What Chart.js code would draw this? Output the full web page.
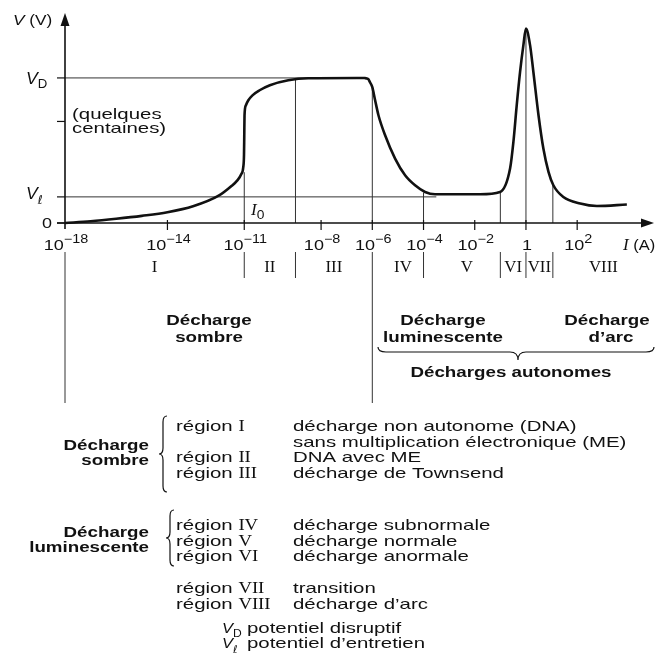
<!DOCTYPE html>
<html>
<head>
<meta charset="utf-8">
<script src="https://cdn.jsdelivr.net/npm/chart.js@4.4.1/dist/chart.umd.min.js"></script>
<style>
  html, body { margin: 0; padding: 0; background: #fff; }
  canvas { display: block; }
</style>
</head>
<body>
<canvas id="chart" width="656" height="668"></canvas>
<script>
// current as log10(I/A), voltage in units where V_D = 100
const currentExp = [-18, -17, -16, -15, -14, -13, -12, -11.5, -11.27, -11.12, -11.04, -11.01, -11.0, -10.99,
  -10.94, -10.84, -10.68, -10.4, -10.0, -9.28, -8.5, -6.6, -6.3, -6.16, -6.09, -6.0, -5.89, -5.76, -5.50, -5.11,
  -4.72, -4.33, -3.94, -3.55, -1.79, -1.01, -0.62, -0.49, -0.36, -0.23, -0.10, 0,
  0.16, 0.29, 0.49, 0.68, 0.88, 1.07, 1.46, 2.12, 2.77, 3.94];
const voltage = [0, 1.2, 2.9, 4.9, 7.4, 11.5, 18.8, 25.5, 29.4, 33.6, 38.4, 47, 60, 74,
  81, 84.6, 88, 91.5, 95, 98.4, 99.8, 100, 99.9, 99.2, 97, 93.6, 84.6, 74.3, 60.5, 44.4,
  32.9, 26.0, 21.4, 19.8, 19.8, 21.4, 37.5, 55.9, 81.2, 104.1, 122.6, 134,
  122.6, 104.1, 74.3, 51.3, 35.2, 26.0, 17.9, 13.4, 11.7, 12.7];

const VD = 100;
const Vl = 18;
const yTickValues = [0, Vl, 70, VD];

const xTickExp = [-18, -14, -11, -8, -6, -4, -2, 0, 2];
const xTickLabels = ['10^−18', '10^−14', '10^−11', '10^−8', '10^−6', '10^−4', '10^−2', '1', '10^2'];

// region boundaries (log10 I) and how high each guide line climbs
const boundaryExp = [-11, -9, -6, -4, -1, 0, 1.05];
const boundaryTop = [35, 99.3, 94, 21, 21.5, 134, 26];
const regionEdges = [-18, -11, -9, -6, -4, -1, 0, 1.05, 5];
const regionNames = ['I', 'II', 'III', 'IV', 'V', 'VI', 'VII', 'VIII'];

const darkRows = [['I', 'décharge non autonome (DNA)'], [null, 'sans multiplication électronique (ME)'],
  ['II', 'DNA avec ME'], ['III', 'décharge de Townsend']];
const glowRows = [['IV', 'décharge subnormale'], ['V', 'décharge normale'], ['VI', 'décharge anormale']];
const arcRows = [['VII', 'transition'], ['VIII', 'décharge d’arc']];

const INK = '#111';
const GUIDE = '#333';
const SANS = '"Liberation Sans", Arial, sans-serif';
const SERIF = '"Liberation Serif", "Times New Roman", serif';
const SX_TEXT = 1.36, SX_BOLD = 1.25, SX_TICK = 1.2;

function pt(e, v) { return { x: Math.pow(10, e), y: v }; }

function seg(ctx, x1, y1, x2, y2) {
  ctx.beginPath(); ctx.moveTo(x1, y1); ctx.lineTo(x2, y2); ctx.stroke();
}

// draw a run of differently styled pieces on one line
function runs(ctx, parts, x, y, align) {
  const widths = parts.map(p => { ctx.font = p.font; return ctx.measureText(p.t).width * (p.sx || 1) + (p.gap || 0); });
  const total = widths.reduce((s, w) => s + w, 0);
  let cx = align === 'center' ? x - total / 2 : align === 'right' ? x - total : x;
  parts.forEach((p, i) => {
    ctx.save();
    ctx.font = p.font;
    ctx.textAlign = 'left';
    ctx.textBaseline = 'alphabetic';
    ctx.translate(cx, y + (p.dy || 0));
    ctx.scale(p.sx || 1, 1);
    ctx.fillText(p.t, 0, 0);
    ctx.restore();
    cx += widths[i];
  });
  return total;
}

function txt(ctx, s, x, y, font, align, sx) {
  return runs(ctx, [{ t: s, font: font, sx: sx }], x, y, align);
}

// "{" opening to the right, tip on the left
function braceV(ctx, x, y1, y2) {
  const m = (y1 + y2) / 2, w = 4, r = 6;
  ctx.beginPath();
  ctx.moveTo(x + w, y1);
  ctx.quadraticCurveTo(x, y1, x, y1 + r);
  ctx.lineTo(x, m - r);
  ctx.quadraticCurveTo(x, m, x - w, m);
  ctx.quadraticCurveTo(x, m, x, m + r);
  ctx.lineTo(x, y2 - r);
  ctx.quadraticCurveTo(x, y2, x + w, y2);
  ctx.stroke();
}

// horizontal brace, tip pointing down at xm
function braceH(ctx, x1, x2, xm, y) {
  const h = 5, r = 8;
  ctx.beginPath();
  ctx.moveTo(x1, y - h);
  ctx.quadraticCurveTo(x1, y, x1 + r, y);
  ctx.lineTo(xm - r, y);
  ctx.quadraticCurveTo(xm, y, xm, y + h + 3);
  ctx.quadraticCurveTo(xm, y, xm + r, y);
  ctx.lineTo(x2 - r, y);
  ctx.quadraticCurveTo(x2, y, x2, y - h);
  ctx.stroke();
}

const decor = {
  id: 'decor',
  afterDraw(chart) {
    const { ctx, chartArea: a, scales } = chart;
    const px = e => scales.x.getPixelForValue(Math.pow(10, e));
    const py = v => scales.y.getPixelForValue(v);
    const y0 = py(0);
    ctx.save();
    ctx.strokeStyle = INK;
    ctx.fillStyle = INK;

    // axes with arrows
    ctx.lineWidth = 1.6;
    seg(ctx, a.left - 8, y0, a.right - 8, y0);
    seg(ctx, a.left, y0 + 6, a.left, a.top + 6);
    ctx.beginPath();
    ctx.moveTo(a.right, y0); ctx.lineTo(a.right - 13, y0 - 4.5); ctx.lineTo(a.right - 13, y0 + 4.5);
    ctx.closePath(); ctx.fill();
    ctx.beginPath();
    ctx.moveTo(a.left, a.top - 4); ctx.lineTo(a.left - 4.5, a.top + 9); ctx.lineTo(a.left + 4.5, a.top + 9);
    ctx.closePath(); ctx.fill();

    // y ticks and labels
    ctx.lineWidth = 1.2;
    yTickValues.forEach(v => seg(ctx, a.left - 8, py(v), a.left, py(v)));
    txt(ctx, '0', 52, y0 + 5, '15px ' + SANS, 'right', SX_TICK);
    const vSym = (x, yy, sub, size) => runs(ctx, [
      { t: 'V', font: 'italic ' + size + 'px ' + SANS, sx: 1.1 },
      sub === 'D' ? { t: 'D', font: (size - 4) + 'px ' + SANS, sx: 1.1, dy: 4 }
                  : { t: 'ℓ', font: 'italic ' + (size - 4) + 'px "DejaVu Sans", sans-serif', dy: 5 }
    ], x, yy);
    vSym(26, py(VD) + 6, 'D', 16);
    vSym(26, py(Vl) + 2, 'l', 16);
    runs(ctx, [{ t: 'V', font: 'italic 15px ' + SANS, sx: 1.15 }, { t: ' (V)', font: '15px ' + SANS, sx: 1.15 }], 13, 25);
    txt(ctx, '(quelques', 72, 119, '15px ' + SANS, 'left', SX_TEXT);
    txt(ctx, 'centaines)', 72, 133, '15px ' + SANS, 'left', SX_TEXT);
    runs(ctx, [{ t: 'I', font: 'italic 17px ' + SERIF }, { t: '0', font: '12px ' + SANS, sx: 1.15, dy: 4 }], 251, 215);

    // x ticks and labels
    xTickExp.forEach((e, i) => {
      if (i > 0) seg(ctx, px(e), y0 - 3, px(e), y0 + 7);
      const [base, sup] = xTickLabels[i].split('^');
      const parts = [{ t: base, font: '15px ' + SANS, sx: SX_TICK }];
      if (sup) parts.push({ t: sup, font: '12px ' + SANS, sx: SX_TICK, dy: -7 });
      runs(ctx, parts, px(e) + 1, 250, 'center');
    });
    runs(ctx, [{ t: 'I', font: 'italic 17px ' + SERIF }, { t: ' (A)', font: '15px ' + SANS, sx: 1.1 }], 623, 250);

    // region strip under the axis
    ctx.lineWidth = 1;
    ctx.strokeStyle = GUIDE;
    boundaryExp.forEach(e => { if (e !== -6) seg(ctx, px(e), 252, px(e), 278); });
    seg(ctx, px(-18), 252, px(-18), 403);
    seg(ctx, px(-6), 252, px(-6), 403);
    regionNames.forEach((n, i) => {
      const xc = (px(regionEdges[i]) + px(regionEdges[i + 1])) / 2;
      txt(ctx, n, xc + (i === 3 || i === 4 ? 5 : 0), 272, '16px ' + SERIF, 'center', 1.05);
    });

    const bold = 'bold 15px ' + SANS;
    txt(ctx, 'Décharge', 209, 325, bold, 'center', SX_BOLD);
    txt(ctx, 'sombre', 209, 342, bold, 'center', SX_BOLD);
    txt(ctx, 'Décharge', 443, 325, bold, 'center', SX_BOLD);
    txt(ctx, 'luminescente', 443, 342, bold, 'center', SX_BOLD);
    txt(ctx, 'Décharge', 607, 325, bold, 'center', SX_BOLD);
    txt(ctx, 'd’arc', 611, 342, bold, 'center', SX_BOLD);
    ctx.strokeStyle = INK;
    ctx.lineWidth = 1.2;
    braceH(ctx, 378, 654, 518, 352);
    txt(ctx, 'Décharges autonomes', 511, 377, bold, 'center', SX_BOLD);

    // legend block
    const reg = '15px ' + SANS;
    const rom = '17px ' + SERIF;
    const rowsAt = (rows, yStart, step) => rows.forEach((r, i) => {
      const yy = yStart + i * step;
      if (r[0]) runs(ctx, [{ t: 'région ', font: reg, sx: SX_TEXT }, { t: r[0], font: rom, sx: 1.1 }], 176, yy);
      txt(ctx, r[1], 293, yy, reg, 'left', SX_TEXT);
    });
    rowsAt(darkRows, 431, 15.7);
    rowsAt(glowRows, 530, 15.5);
    rowsAt(arcRows, 593, 15.5);
    txt(ctx, 'Décharge', 149, 450, bold, 'right', SX_BOLD);
    txt(ctx, 'sombre', 149, 465, bold, 'right', SX_BOLD);
    txt(ctx, 'Décharge', 149, 537, bold, 'right', SX_BOLD);
    txt(ctx, 'luminescente', 149, 552, bold, 'right', SX_BOLD);
    braceV(ctx, 163, 416, 492);
    braceV(ctx, 170, 510, 566);

    vSym(222, 633, 'D', 15);
    txt(ctx, 'potentiel disruptif', 247, 633, reg, 'left', SX_TEXT);
    vSym(222, 648, 'l', 15);
    txt(ctx, 'potentiel d’entretien', 247, 648, reg, 'left', SX_TEXT);
    ctx.restore();
  }
};

const guideSets = boundaryExp.map((e, i) => ({
  data: [pt(e, 0), pt(e, boundaryTop[i])],
  borderColor: GUIDE, borderWidth: 1, pointRadius: 0, tension: 0
}));

new Chart(document.getElementById('chart'), {
  type: 'line',
  data: {
    datasets: [
      {
        data: currentExp.map((e, i) => pt(e, voltage[i])),
        borderColor: INK, borderWidth: 2.6, pointRadius: 0,
        cubicInterpolationMode: 'monotone', clip: false
      },
      { data: [pt(-18, VD), pt(-8.5, VD)], borderColor: GUIDE, borderWidth: 1, pointRadius: 0 },
      { data: [pt(-18, Vl), pt(-3.5, Vl)], borderColor: GUIDE, borderWidth: 1, pointRadius: 0 },
      ...guideSets
    ]
  },
  options: {
    responsive: false,
    animation: false,
    layout: { padding: { left: 65, right: 2, top: 17, bottom: 445 } },
    scales: {
      x: { type: 'logarithmic', min: 1e-18, max: 1e5, display: false },
      y: { type: 'linear', min: 0, max: 142, display: false }
    },
    plugins: { legend: { display: false }, tooltip: { enabled: false } }
  },
  plugins: [decor]
});
</script>
</body>
</html>
